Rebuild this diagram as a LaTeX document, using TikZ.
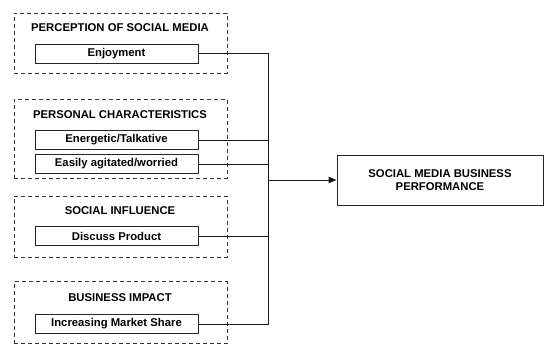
\documentclass[tikz,border=0pt]{standalone}
\usepackage{fontspec}
\setmainfont{Liberation Sans}
\usetikzlibrary{arrows.meta}
\begin{document}
\begin{tikzpicture}[x=1pt,y=-1pt,
  every node/.style={font=\fontsize{11.3}{13.5}\selectfont\bfseries, text=black, inner sep=0pt},
  group/.style={draw=black!80, line width=0.9pt, dash pattern=on 4pt off 3pt, minimum width=213pt},
  item/.style={draw=black!85, line width=0.9pt, minimum width=163pt, minimum height=19pt},
  title/.style={},
  link/.style={draw=black!90, line width=1pt},
  target/.style={draw=black!85, line width=0.9pt, minimum width=206pt, minimum height=50pt, align=center}
]
\useasboundingbox (0,0) rectangle (544,345);
% group frames
\node[group, minimum height=60pt] (g1) at (120.5,43) {};
\node[group, minimum height=79pt] (g2) at (120.5,138.5) {};
\node[group, minimum height=61pt] (g3) at (120.5,226.5) {};
\node[group, minimum height=62pt] (g4) at (120.5,312.5) {};
% titles
\node[title] (t1) at (120,28) {PERCEPTION OF SOCIAL MEDIA};
\node[title] (t2) at (120,115) {PERSONAL CHARACTERISTICS};
\node[title] (t3) at (120,211) {SOCIAL INFLUENCE};
\node[title] (t4) at (120,298) {BUSINESS IMPACT};
% items
\node[item] (enj) at (116.5,53.5) {Enjoyment};
\node[item] (ene) at (116.5,140) {Energetic/Talkative};
\node[item] (eas) at (116.5,164) {Easily agitated/worried};
\node[item] (dis) at (116.5,236) {Discuss Product};
\node[item] (inc) at (116.5,324) {Increasing Market Share};
% target
\node[target] (perf) at (440,180) {SOCIAL MEDIA BUSINESS\\PERFORMANCE};
% connectors
\coordinate (jtop) at (268,53.5);
\coordinate (jbot) at (268,324);
\coordinate (jmid) at (268,180);
\draw[link] (enj.east) -- (jtop) -- (jbot) -- (inc.east);
\draw[link] (ene.east) -- (ene.east -| jtop);
\draw[link] (eas.east) -- (eas.east -| jtop);
\draw[link] (dis.east) -- (dis.east -| jtop);
\draw[link, -{Triangle[length=8pt,width=6.5pt]}] (jmid) -- (perf.west);
\end{tikzpicture}
\end{document}
